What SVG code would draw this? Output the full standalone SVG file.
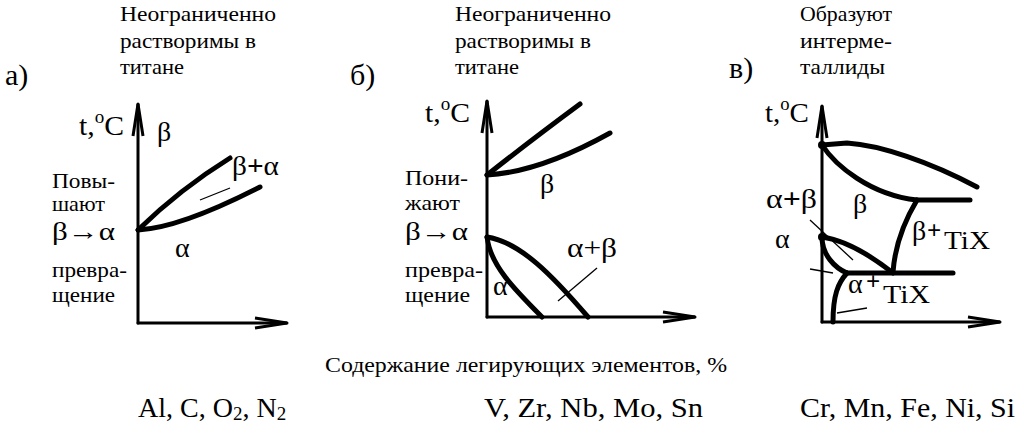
<svg xmlns="http://www.w3.org/2000/svg" width="1024" height="441" viewBox="0 0 1024 441">
<defs>
<style>
text{font-family:"Liberation Serif","Times New Roman",serif;fill:#000}
.h{font-size:21px}
.p{font-size:30px}
.l{font-size:22px}
.g{font-size:28px}
.ar{font-size:25px}
.b{font-size:28px}
.ax{fill:none;stroke:#000;stroke-width:3;stroke-linecap:round}
.cv{fill:none;stroke:#000;stroke-width:5;stroke-linecap:round;stroke-linejoin:round}
.tn{fill:none;stroke:#000;stroke-width:1.3}
</style>
<marker id="arr" markerUnits="userSpaceOnUse" viewBox="-34 -7 36 14" refX="0" refY="0" markerWidth="36" markerHeight="14" orient="auto">
<path d="M-32,-5 L0,0 L-32,5" fill="none" stroke="#000" stroke-width="3" stroke-linejoin="miter"/>
</marker>
</defs>
<rect width="1024" height="441" fill="#fff"/>

<g id="headings">
<text class="h" x="120" y="21" textLength="156" lengthAdjust="spacingAndGlyphs">Неограниченно</text>
<text class="h" x="120" y="48" textLength="136" lengthAdjust="spacingAndGlyphs">растворимы в</text>
<text class="h" x="120" y="74" textLength="64" lengthAdjust="spacingAndGlyphs">титане</text>
<text class="h" x="455" y="21" textLength="156" lengthAdjust="spacingAndGlyphs">Неограниченно</text>
<text class="h" x="455" y="48" textLength="136" lengthAdjust="spacingAndGlyphs">растворимы в</text>
<text class="h" x="455" y="74" textLength="64" lengthAdjust="spacingAndGlyphs">титане</text>
<text class="h" x="800" y="21" textLength="92" lengthAdjust="spacingAndGlyphs">Образуют</text>
<text class="h" x="800" y="48" textLength="92" lengthAdjust="spacingAndGlyphs">интерме-</text>
<text class="h" x="800" y="74" textLength="85" lengthAdjust="spacingAndGlyphs">таллиды</text>
<text class="p" x="5" y="85">а)</text>
<text class="p" x="350" y="85">б)</text>
<text class="p" x="729" y="78">в)</text>
</g>

<g id="panel-a">
<g id="axes-a">
<path class="ax" d="M138,323 L138,104" marker-end="url(#arr)"/>
<path class="ax" d="M138,323 L287,323" marker-end="url(#arr)"/>
</g>
<g id="curves-a">
<path class="cv" d="M138,230 Q180,189 230,158"/>
<path class="cv" d="M138,230 Q180,228 260,187"/>
<path class="tn" d="M200,200 L230,188"/>
</g>
<text class="g" x="79" y="135" textLength="45" lengthAdjust="spacingAndGlyphs">t,<tspan font-size="18" dy="-12">o</tspan><tspan dy="12">C</tspan></text>
<text class="g" x="157" y="141">β</text>
<text class="g" x="232" y="175" textLength="47" lengthAdjust="spacingAndGlyphs">β<tspan font-weight="bold">+</tspan>α</text>
<text class="g" x="175" y="257">α</text>
<text class="l" x="52" y="188" textLength="63" lengthAdjust="spacingAndGlyphs">Повы-</text>
<text class="l" x="52" y="211" textLength="53" lengthAdjust="spacingAndGlyphs">шают</text>
<text class="ar" x="52" y="240" textLength="63" lengthAdjust="spacingAndGlyphs">β→α</text>
<text class="l" x="52" y="277" textLength="75" lengthAdjust="spacingAndGlyphs">превра-</text>
<text class="l" x="52" y="302" textLength="63" lengthAdjust="spacingAndGlyphs">щение</text>
</g>

<g id="panel-b">
<g id="axes-b">
<path class="ax" d="M487,317 L487,101" marker-end="url(#arr)"/>
<path class="ax" d="M487,317 L695,317" marker-end="url(#arr)"/>
</g>
<g id="curves-b">
<path class="cv" d="M487,175 Q530,141 580,104"/>
<path class="cv" d="M487,175 Q540,172 610,133"/>
<path class="cv" d="M487,237 C520,242 552,275 588,317"/>
<path class="cv" d="M487,237 C490,265 515,290 542,317"/>
<path class="tn" d="M558,301 L597,268"/>
</g>
<text class="g" x="425" y="122" textLength="45" lengthAdjust="spacingAndGlyphs">t,<tspan font-size="18" dy="-12">o</tspan><tspan dy="12">C</tspan></text>
<text class="g" x="540" y="193">β</text>
<text class="g" x="567" y="257" textLength="50" lengthAdjust="spacingAndGlyphs">α+β</text>
<text class="g" x="493" y="295">α</text>
<text class="l" x="405" y="185" textLength="63" lengthAdjust="spacingAndGlyphs">Пони-</text>
<text class="l" x="405" y="210" textLength="55" lengthAdjust="spacingAndGlyphs">жают</text>
<text class="ar" x="405" y="240" textLength="63" lengthAdjust="spacingAndGlyphs">β→α</text>
<text class="l" x="405" y="277" textLength="78" lengthAdjust="spacingAndGlyphs">превра-</text>
<text class="l" x="405" y="302" textLength="65" lengthAdjust="spacingAndGlyphs">щение</text>
</g>

<g id="panel-c">
<g id="axes-c">
<path class="ax" d="M822,322 L822,106" marker-end="url(#arr)"/>
<path class="ax" d="M822,322 L1000,322" marker-end="url(#arr)"/>
</g>
<g id="curves-c">
<path class="cv" d="M822,145 L847,143 C880,145 930,162 977,187"/>
<path class="cv" d="M822,145 C835,165 870,195 917,200 L970,200"/>
<path class="cv" d="M917,200 C905,220 895,245 893,272"/>
<path class="cv" d="M847,273 L953,273"/>
<path class="cv" d="M822,237 C845,240 870,255 893,273"/>
<path class="cv" d="M822,237 C822,255 835,268 847,273"/>
<path class="cv" d="M847,273 C838,283 833,295 833,322"/>
<circle cx="822" cy="145" r="4"/>
<circle cx="822" cy="237" r="4"/>
<path class="tn" d="M810,220 L853,260"/>
<path class="tn" d="M810,269 L833,273"/>
<path class="tn" d="M837,313 L867,308"/>
</g>
<text class="g" x="765" y="122" textLength="44" lengthAdjust="spacingAndGlyphs">t,<tspan font-size="18" dy="-12">o</tspan><tspan dy="12">C</tspan></text>
<text class="g" x="766" y="208" textLength="51" lengthAdjust="spacingAndGlyphs">α<tspan font-weight="bold">+</tspan>β</text>
<text class="g" x="853" y="213">β</text>
<text class="g" x="775" y="248">α</text>
<text class="g" x="912" y="240">β</text>
<text x="927" y="239" font-size="25" font-weight="bold">+</text>
<text x="944" y="249" font-size="26" textLength="46" lengthAdjust="spacingAndGlyphs">TiX</text>
<text class="g" x="848" y="293">α</text>
<text x="866" y="290" font-size="25" font-weight="bold">+</text>
<text x="883" y="303" font-size="26" textLength="47" lengthAdjust="spacingAndGlyphs">TiX</text>
</g>

<g id="bottom">
<text x="325" y="372" font-size="21" textLength="402" lengthAdjust="spacingAndGlyphs">Содержание легирующих элементов, %</text>
<text class="b" x="138" y="417">Al, C, O<tspan font-size="19" dy="3">2</tspan><tspan dy="-3">, N</tspan><tspan font-size="19" dy="3">2</tspan></text>
<text class="b" x="484" y="417" textLength="219" lengthAdjust="spacingAndGlyphs">V, Zr, Nb, Mo, Sn</text>
<text class="b" x="800" y="417" textLength="215" lengthAdjust="spacingAndGlyphs">Cr, Mn, Fe, Ni, Si</text>
</g>
</svg>
